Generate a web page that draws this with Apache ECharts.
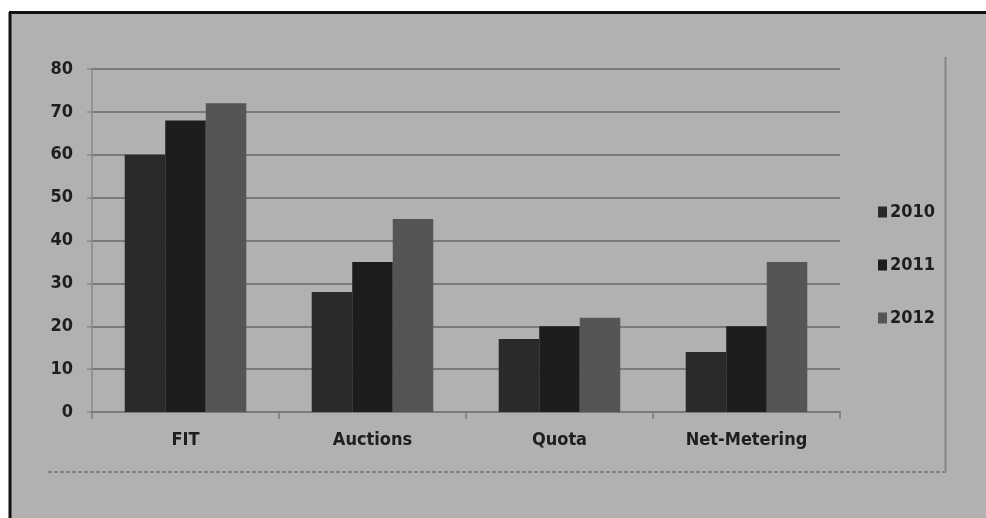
<!DOCTYPE html>
<html>
<head>
<meta charset="utf-8">
<script src="https://cdn.jsdelivr.net/npm/echarts@6/dist/echarts.min.js"></script>
<style>
  html, body { margin: 0; padding: 0; background: #ffffff; }
  #chart { width: 986px; height: 518px; }
</style>
</head>
<body>
<div id="chart"></div>
<script>
// Support schemes by year
const categories = ['FIT', 'Auctions', 'Quota', 'Net-Metering'];
const years = ['2010', '2011', '2012'];
const values2010 = [60, 28, 17, 14];
const values2011 = [68, 35, 20, 20];
const values2012 = [72, 45, 22, 35];
const yTicks = { min: 0, max: 80, interval: 10 };

const seriesValues = [values2010, values2011, values2012];
const barColors = ['#2a2a2a', '#1d1d1d', '#555555'];
const labelFont = 'Liberation Sans Narrow, DejaVu Sans Condensed, sans-serif';

const chart = echarts.init(document.getElementById('chart'), null, { renderer: 'canvas' });

chart.setOption({
  backgroundColor: '#ffffff',
  animation: false,
  graphic: [
    // panel fill and its dark frame
    { type: 'rect', z: -10, shape: { x: 10, y: 12, width: 976, height: 506 }, style: { fill: '#b1b1b1' } },
    { type: 'line', z: 10, shape: { x1: 9, y1: 12.5, x2: 986, y2: 12.5 }, style: { stroke: '#111', lineWidth: 3 } },
    { type: 'line', z: 10, shape: { x1: 10, y1: 12, x2: 10, y2: 518 }, style: { stroke: '#111', lineWidth: 3 } },
    // inner chart box (right and bottom edges)
    { type: 'line', z: 1, shape: { x1: 945.5, y1: 57, x2: 945.5, y2: 472 }, style: { stroke: '#858585', lineWidth: 2 } },
    { type: 'line', z: 1, shape: { x1: 48, y1: 472, x2: 946, y2: 472 }, style: { stroke: '#858585', lineWidth: 2, lineDash: [4, 2] } }
  ],
  grid: { left: 92, right: 146, top: 69, bottom: 106, containLabel: false },
  legend: {
    orient: 'vertical',
    left: 873,
    top: 198,
    itemGap: 35,
    itemWidth: 9,
    itemHeight: 11,
    icon: 'rect',
    data: years,
    textStyle: { fontFamily: labelFont, fontWeight: 'bold', fontSize: 18, color: '#1e1e1e', padding: [0, 0, 0, -2] }
  },
  xAxis: {
    type: 'category',
    data: categories,
    axisLine: { lineStyle: { color: '#7a7a7a', width: 2 } },
    axisTick: { show: true, length: 7, lineStyle: { color: '#7a7a7a', width: 1.5 } },
    axisLabel: { fontFamily: labelFont, fontWeight: 'bold', fontSize: 18, color: '#1e1e1e', margin: 19 }
  },
  yAxis: {
    type: 'value',
    min: yTicks.min,
    max: yTicks.max,
    interval: yTicks.interval,
    axisLine: { show: true, lineStyle: { color: '#8a8a8a', width: 1.5 } },
    axisTick: { show: true, length: 5, lineStyle: { color: '#8a8a8a', width: 1.5 } },
    axisLabel: { fontFamily: labelFont, fontWeight: 'bold', fontSize: 18, color: '#1e1e1e', margin: 19 },
    splitLine: { show: true, lineStyle: { color: '#7a7a7a', width: 2 } }
  },
  series: years.map((y, i) => ({
    name: y,
    type: 'bar',
    data: seriesValues[i],
    barGap: '0%',
    barCategoryGap: '35%',
    itemStyle: { color: barColors[i] }
  }))
});
</script>
</body>
</html>
